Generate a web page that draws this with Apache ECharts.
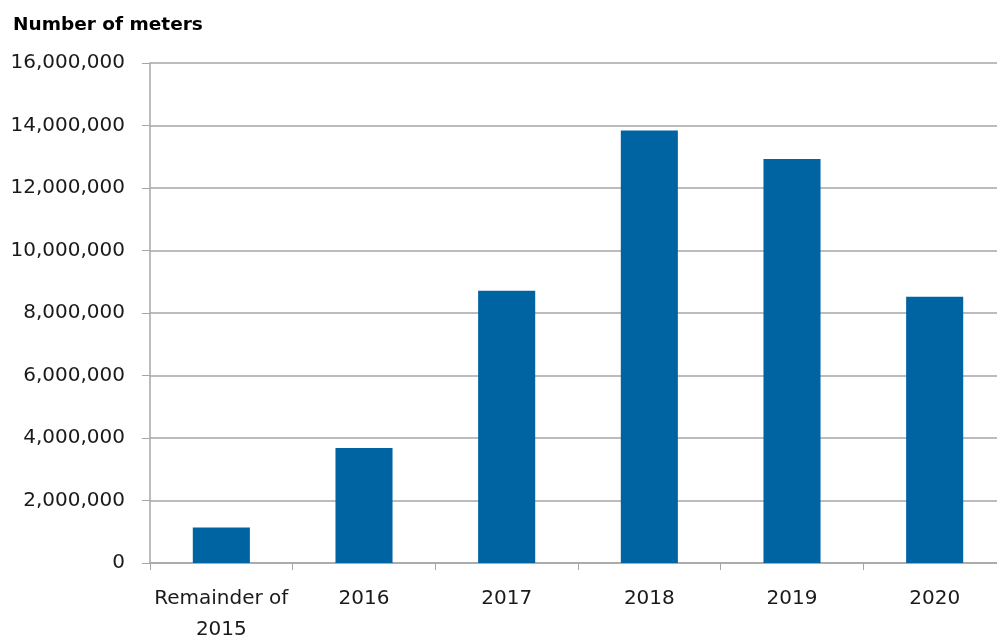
<!DOCTYPE html>
<html>
<head>
<meta charset="utf-8">
<script src="https://cdn.jsdelivr.net/npm/echarts@6/dist/echarts.min.js"></script>
<style>
  html, body { margin: 0; padding: 0; background: #fff; }
  #chart { width: 997px; height: 635px; }
</style>
</head>
<body>
<div id="chart"></div>
<script>
// 数据
const categories = ['Remainder of\n2015', '2016', '2017', '2018', '2019', '2020']
const meters = [1140000, 3680000, 8710000, 13840000, 12930000, 8520000]
const yTicks = [0, 2000000, 4000000, 6000000, 8000000, 10000000, 12000000, 14000000, 16000000]

let myChart = echarts.init(document.getElementById('chart'))
const font = 'DejaVu Sans'

myChart.setOption({
    animation: false,
    title: {
        text: 'Number of meters',
        left: 8,
        top: 11,
        textStyle: {
            fontFamily: font,
            fontSize: 18.5,
            fontWeight: 'bold',
            color: '#000'
        }
    },
    grid: { // 图表离面板的距离
        left: 150,
        right: -9,
        top: 63,
        bottom: 72,
        containLabel: false,
        outerBoundsMode: 'none'
    },
    xAxis: {
        type: 'category',
        data: categories,
        axisLine: { lineStyle: { color: '#a6a6a6', width: 1.5 } },
        axisTick: { show: true, length: 7, lineStyle: { color: '#a6a6a6' } },
        axisLabel: {
            color: '#1a1a1a',
            fontFamily: font,
            fontSize: 20,
            lineHeight: 31,
            margin: 20,
            interval: 0
        }
    },
    yAxis: {
        type: 'value',
        min: yTicks[0],
        max: yTicks[yTicks.length - 1],
        interval: 2000000,
        axisLine: { show: true, lineStyle: { color: '#a6a6a6', width: 1.5 } },
        axisTick: { show: true, length: 8, lineStyle: { color: '#a6a6a6' } },
        axisLabel: {
            color: '#1a1a1a',
            fontFamily: font,
            fontSize: 20,
            margin: 25,
            formatter: v => v.toLocaleString('en-US')
        },
        splitLine: { // 网格线
            lineStyle: { color: '#a6a6a6', width: 1.5 }
        }
    },
    series: [{
        type: 'bar',
        data: meters,
        barWidth: '40%',
        itemStyle: { color: '#0064a2' }
    }]
})
</script>
</body>
</html>
